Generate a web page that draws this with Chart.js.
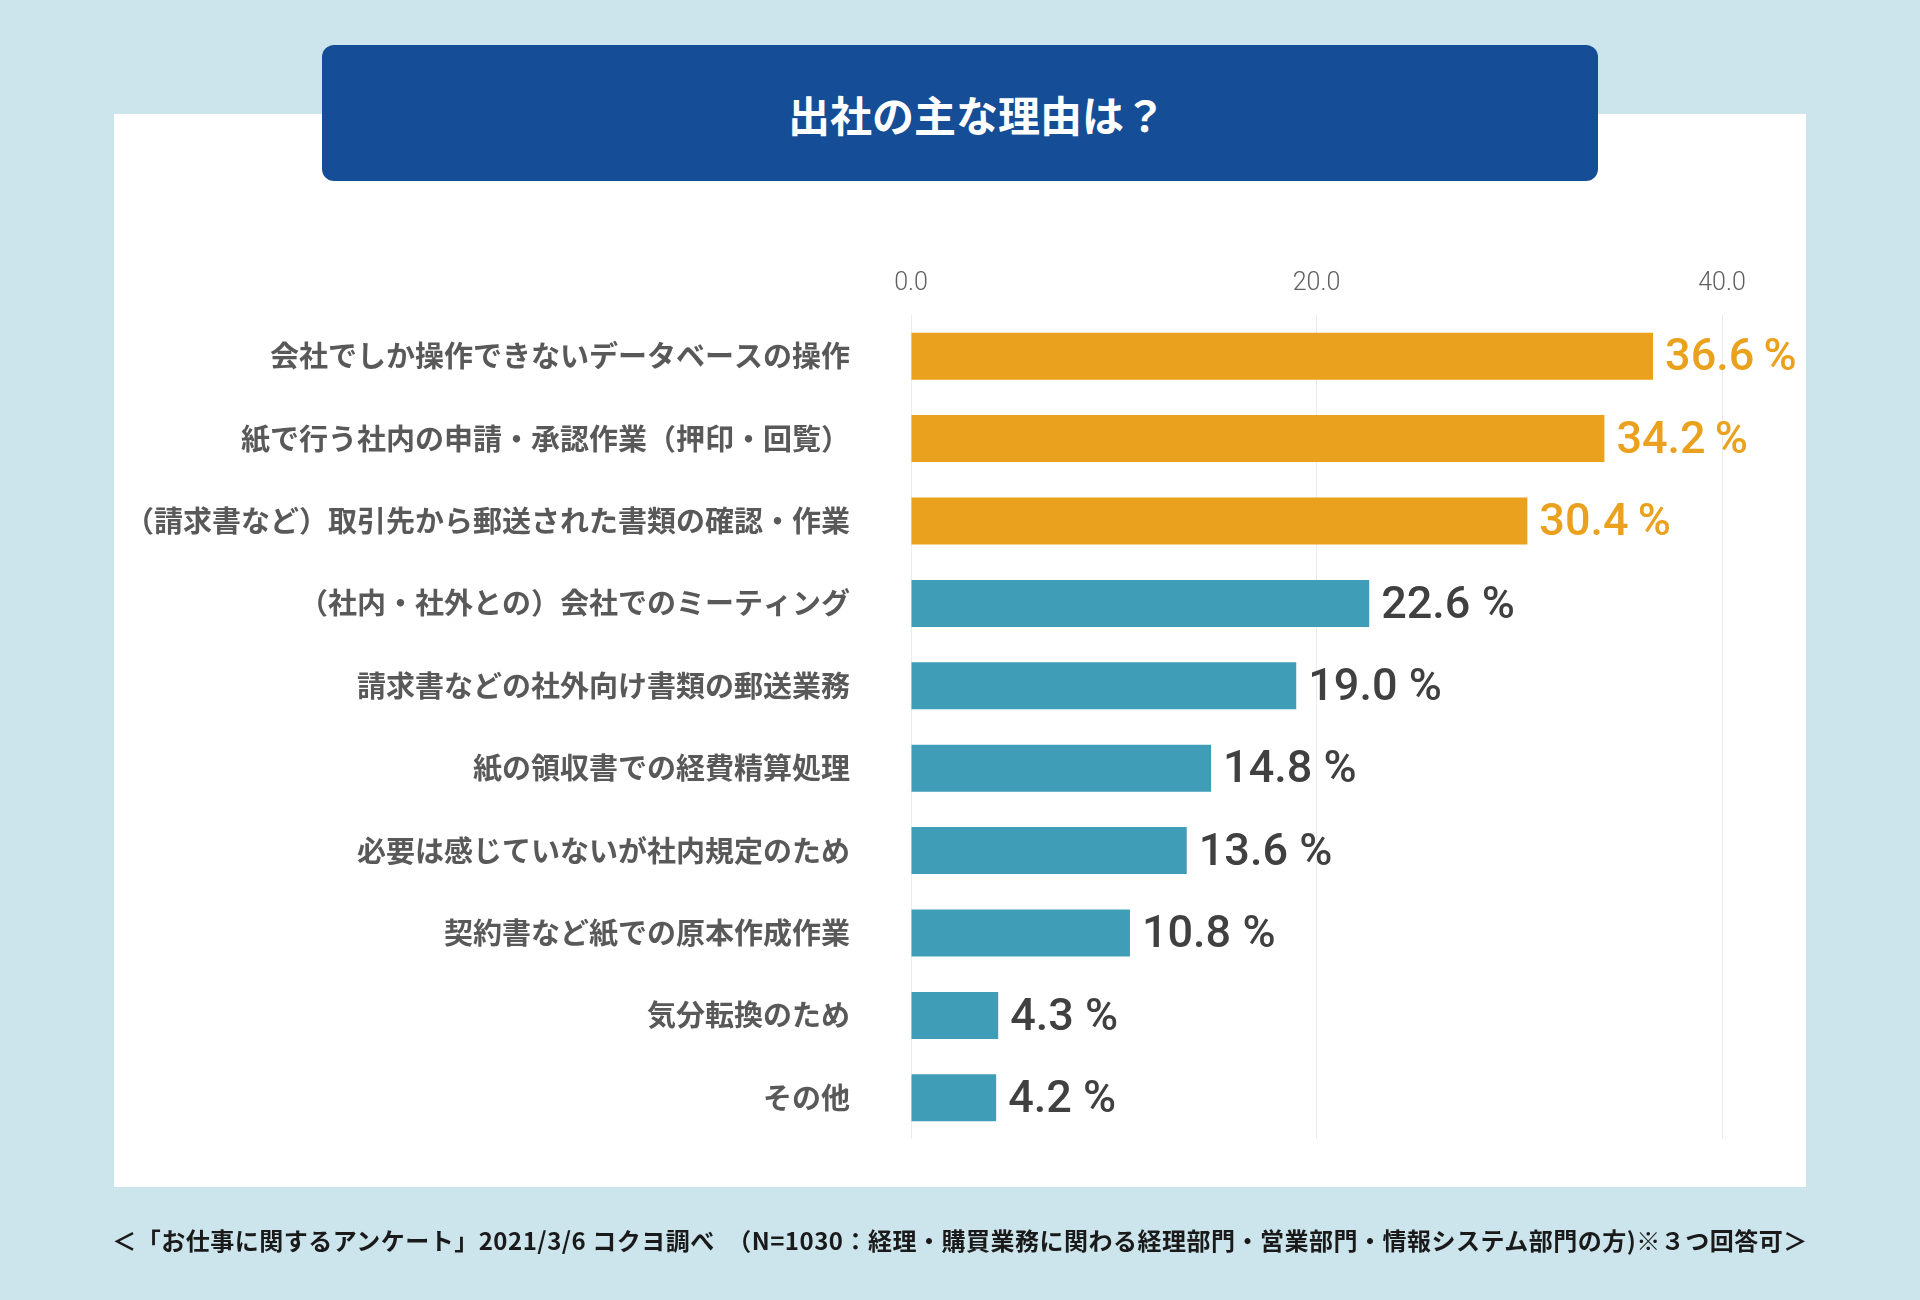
<!DOCTYPE html>
<html lang="ja">
<head>
<meta charset="utf-8">
<title>出社の主な理由は？</title>
<script src="https://cdn.jsdelivr.net/npm/chart.js@4.4.1/dist/chart.umd.min.js"></script>
<style>
  html, body { margin: 0; padding: 0; }
  body {
    width: 1920px; height: 1300px; position: relative; overflow: hidden;
    background: #cce4eb;
    font-family: "Noto Sans CJK JP", sans-serif;
  }
  #panel {
    position: absolute; left: 114px; top: 114px; width: 1692px; height: 1073px;
    background: #ffffff; z-index: 0;
  }
  #banner {
    position: absolute; left: 322px; top: 45px; width: 1276px; height: 136px;
    background: #154d96; border-radius: 12px; z-index: 2;
    box-sizing: border-box; padding-left: 34px;
    display: flex; align-items: center; justify-content: center;
    color: #ffffff; font-weight: bold; font-size: 42px;
  }
  #chart { position: absolute; left: 0; top: 0; z-index: 1; }
  #note {
    position: absolute; left: 0; width: 1920px; top: 1222px; text-align: center;
    font-size: 24px; letter-spacing: 0.5px; font-weight: bold; color: #1a1a1a;
    white-space: nowrap; z-index: 2;
  }
</style>
</head>
<body>
<div id="panel"></div>
<canvas id="chart" width="1920" height="1300"></canvas>
<div id="banner">出社の主な理由は？</div>
<div id="note">＜「お仕事に関するアンケート」2021/3/6 コクヨ調べ　（N=1030：経理・購買業務に関わる経理部門・営業部門・情報システム部門の方)※３つ回答可＞</div>

<script>
// 回答項目と割合（%）
const categories = [
    '会社でしか操作できないデータベースの操作',
    '紙で行う社内の申請・承認作業（押印・回覧）',
    '（請求書など）取引先から郵送された書類の確認・作業',
    '（社内・社外との）会社でのミーティング',
    '請求書などの社外向け書類の郵送業務',
    '紙の領収書での経費精算処理',
    '必要は感じていないが社内規定のため',
    '契約書など紙での原本作成作業',
    '気分転換のため',
    'その他'
];
const values = [36.6, 34.2, 30.4, 22.6, 19.0, 14.8, 13.6, 10.8, 4.3, 4.2];
const axisTicks = [0, 20, 40];
const topCount = 3; // 上位3項目はオレンジ

const orange = '#e9a11e';
const teal = '#3f9db8';
const barColors = values.map((v, i) => i < topCount ? orange : teal);

// バーの右に「xx.x %」を描く
const valueLabels = {
    id: 'valueLabels',
    afterDatasetsDraw(chart) {
        const ctx = chart.ctx;
        const meta = chart.getDatasetMeta(0);
        ctx.save();
        ctx.font = '500 45px Roboto, sans-serif';
        ctx.textAlign = 'left';
        ctx.textBaseline = 'middle';
        meta.data.forEach((bar, i) => {
            const top = i < topCount;
            ctx.fillStyle = top ? orange : '#404040';
            // 上位3項目は数字と%の間が詰まっている
            const sep = top ? '\u2009' : ' ';
            ctx.fillText(values[i].toFixed(1) + sep + '%', bar.x + 12, bar.y + 3);
        });
        ctx.restore();
    }
};

const ctx = document.getElementById('chart');

new Chart(ctx, {
    type: 'bar',
    data: {
        labels: categories,
        datasets: [{
            data: values,
            backgroundColor: barColors,
            borderWidth: 0,
            categoryPercentage: 1.0,
            barPercentage: 0.57
        }]
    },
    options: {
        indexAxis: 'y',
        responsive: false,
        devicePixelRatio: 1,
        animation: false,
        layout: { padding: { left: 0, right: 198, top: 0, bottom: 161 } },
        plugins: {
            legend: { display: false },
            tooltip: { enabled: false }
        },
        scales: {
            x: {
                position: 'top',
                min: axisTicks[0],
                max: axisTicks[axisTicks.length - 1],
                afterBuildTicks: (scale) => {
                    scale.ticks = axisTicks.map(v => ({ value: v }));
                },
                afterFit: (scale) => { scale.height = 315; },
                border: { display: false },
                grid: { color: '#ebebeb', lineWidth: 1, drawTicks: false },
                ticks: {
                    padding: 16,
                    color: '#606060',
                    font: { family: 'Roboto, sans-serif', size: 25, weight: 300 },
                    callback: (v) => Number(v).toFixed(1)
                }
            },
            y: {
                afterFit: (scale) => { scale.width = 911; },
                border: { display: false },
                grid: { display: false, drawTicks: false },
                ticks: {
                    padding: 61,
                    color: '#595959',
                    font: { family: '"Noto Sans CJK JP", sans-serif', size: 29, weight: 'bold' }
                }
            }
        }
    },
    plugins: [valueLabels]
});
</script>
</body>
</html>
